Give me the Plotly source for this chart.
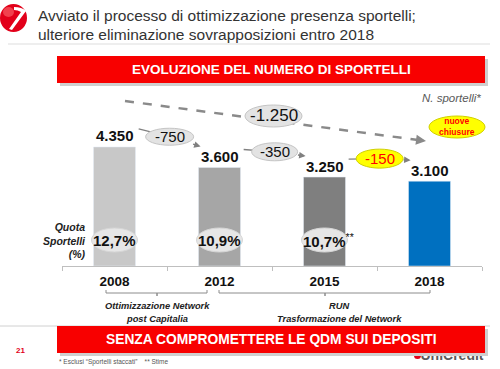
import plotly.graph_objects as go

# ---------------- data ----------------
years = ["2008", "2012", "2015", "2018"]
sportelli = [4350, 3600, 3250, 3100]
quota = ["12,7%", "10,9%", "10,7%", ""]
quota_note = ["", "", "**", ""]
bar_colors = ["#c8c8c8", "#a6a6a6", "#7f7f7f", "#0070c0"]
periods_line1 = ["Ottimizzazione Network", "RUN"]
periods_line2 = ["post Capitalia", "Trasformazione del Network"]

title_l1 = "Avviato il processo di ottimizzazione presenza sportelli;"
title_l2 = "ulteriore eliminazione sovrapposizioni entro 2018"
banner_top = "EVOLUZIONE DEL NUMERO DI SPORTELLI"
banner_bot = "SENZA COMPROMETTERE LE QDM SUI DEPOSITI"

# ---------------- helpers ----------------
W, H = 500, 369
SANS = "Liberation Sans, Arial"


def px(x):
    return x / W


def py(y):
    return 1 - y / H


def fmt(v):
    s = f"{abs(v):,}".replace(",", ".")
    return ("-" if v < 0 else "") + s


Y0_PX = 266          # pixel row of the value axis baseline
Y_MAX = 9722         # axis range top
U = Y_MAX / Y0_PX    # data units per pixel

fig = go.Figure()

fig.add_trace(go.Bar(
    x=years, y=sportelli, marker_color=bar_colors, width=0.4,
    hoverinfo="skip", showlegend=False,
))

# overlay axis (pixel space) for the partially hidden footer logo text
fig.add_trace(go.Scatter(
    x=[452], y=[356], xaxis="x2", yaxis="y2", mode="text",
    text=["<b>UniCredit</b>"], textfont=dict(family=SANS, size=14, color="#5a5a5a"),
    hoverinfo="skip", showlegend=False,
))

shapes = []
ann = []


def label(x, y, text, size, color="#111111", xref="paper", yref="paper", xanchor="center", **kw):
    d = dict(x=x, y=y, xref=xref, yref=yref, xanchor=xanchor, yanchor="middle",
             text=text, showarrow=False, font=dict(family=SANS, size=size, color=color))
    d.update(kw)
    ann.append(d)


# ---- header ----
shapes.append(dict(type="circle", xref="paper", yref="paper",
                   x0=px(0), x1=px(27), y0=py(4), y1=py(32),
                   fillcolor="#e2001a", line=dict(width=0)))
shapes.append(dict(type="circle", xref="paper", yref="paper",
                   x0=px(3), x1=px(14), y0=py(7), y1=py(17),
                   fillcolor="rgba(255,130,130,0.5)", line=dict(width=0)))
shapes.append(dict(type="path", xref="paper", yref="paper",
                   path=(f"M {px(14)},{py(7)} Q {px(22)},{py(7)} {px(26)},{py(11)} "
                         f"L {px(12)},{py(30)} L {px(9)},{py(29)} L {px(21)},{py(12)} "
                         f"Q {px(18)},{py(10)} {px(14)},{py(10)} Z"),
                   fillcolor="white", line=dict(width=0)))
label(px(36), py(15), title_l1, 15.5, "#333333", xanchor="left")
label(px(36), py(34), title_l2, 15.5, "#333333", xanchor="left")
shapes.append(dict(type="line", xref="paper", yref="paper", x0=px(8), x1=px(490), y0=py(44), y1=py(44),
                   line=dict(color="#dddddd", width=1)))


# ---- banners ----
def banner(y0, y1, text, size):
    shapes.append(dict(type="rect", xref="paper", yref="paper",
                       x0=px(60), x1=px(488), y0=py(y0 + 3), y1=py(y1 + 3),
                       fillcolor="#cfcfcf", line=dict(width=0)))
    shapes.append(dict(type="rect", xref="paper", yref="paper",
                       x0=px(57), x1=px(485), y0=py(y0), y1=py(y1),
                       fillcolor="#f80000", line=dict(width=0)))
    label(px(271), py((y0 + y1) / 2), f"<b>{text}</b>", size, "white")


shapes.append(dict(type="line", xref="paper", yref="paper", x0=px(0), x1=px(490), y0=py(326), y1=py(326),
                   line=dict(color="#d0d0d0", width=1)))
banner(56, 83, banner_top, 13.5)
banner(326, 353, banner_bot, 13.8)

label(px(483), py(98), "<i>N. sportelli*</i>", 11.5, "#595959", xanchor="right")

# ---- value labels ----
for i, v in enumerate(sportelli):
    label(i, v, f"<b>{fmt(v)}</b>", 15, xref="x", yref="y", yshift=11)

# ---- step changes between bars ----
changes = [sportelli[i + 1] - sportelli[i] for i in range(len(sportelli) - 1)]
ell_w = [48, 46, 47]
ell_h = [17, 18, 19]
ell_fill = ["#e3e3e3", "#e3e3e3", "#ffff00"]
ell_line = ["#c4c4c4", "#c4c4c4", "#d0d000"]
txt_col = ["#111111", "#111111", "#ff0000"]
for i, d in enumerate(changes):
    xs, ys = i + 0.23, sportelli[i] + 18 * U
    xe, ye = i + 1 - 0.18, sportelli[i + 1] + 21 * U
    xm, ym = (xs + xe) / 2, (ys + ye) / 2 + 1 * U
    shapes.append(dict(type="line", xref="x", yref="y", x0=xs, y0=ys, x1=xm, y1=ym,
                       line=dict(color="#808080", width=1.3)))
    shapes.append(dict(type="circle", xref="x", yref="y",
                       xsizemode="pixel", xanchor=xm, x0=-ell_w[i] / 2, x1=ell_w[i] / 2,
                       ysizemode="pixel", yanchor=ym, y0=-ell_h[i] / 2, y1=ell_h[i] / 2,
                       fillcolor=ell_fill[i], line=dict(color=ell_line[i], width=1)))
    ann.append(dict(x=xe, y=ye, ax=xm, ay=ym, xref="x", yref="y", axref="x", ayref="y",
                    text="", showarrow=True, arrowhead=2, arrowsize=1, arrowwidth=1.3,
                    arrowcolor="#808080", startstandoff=ell_w[i] / 2 - 1))
    label(xm, ym, fmt(d), 15, txt_col[i], xref="x", yref="y")

# ---- total change dashed arrow ----
total = sportelli[-1] - sportelli[0]
shapes.append(dict(type="line", xref="paper", yref="paper", x0=px(125), y0=py(101), x1=px(418), y1=py(140),
                   line=dict(color="#8a8a8a", width=2.5, dash="dash")))
ann.append(dict(x=px(426), y=py(141), xref="paper", yref="paper", ax=-10, ay=-1.3,
                text="", showarrow=True, arrowhead=2, arrowsize=1, arrowwidth=2, arrowcolor="#8a8a8a"))
shapes.append(dict(type="circle", xref="paper", yref="paper",
                   x0=px(245), x1=px(302), y0=py(105), y1=py(127),
                   fillcolor="#e3e3e3", line=dict(color="#c4c4c4", width=1)))
label(px(273.5), py(116), fmt(total), 17)
shapes.append(dict(type="circle", xref="paper", yref="paper",
                   x0=px(429), x1=px(485), y0=py(116), y1=py(138),
                   fillcolor="#ffff00", line=dict(color="#d0d000", width=1)))
label(px(457), py(126.5), "<b>nuove<br>chiusure</b>", 8.5, "#ff0000")

# ---- market share ellipses ----
label(px(88), py(240), "<b><i>Quota<br>Sportelli<br>(%)</i></b>", 10.5, "#222222",
      xanchor="right", align="right")
for i, q in enumerate(quota):
    if not q:
        continue
    shapes.append(dict(type="circle", xref="x", yref="paper",
                       xsizemode="pixel", xanchor=i, x0=-23, x1=23,
                       y0=py(252), y1=py(228),
                       fillcolor="#e6e6e6", line=dict(color="#d6d6d6", width=1)))
    txt = f"<b>{q}</b>" + (f"<sup>{quota_note[i]}</sup>" if quota_note[i] else "")
    label(i, py(240), txt, 15, xref="x", xshift=4 if quota_note[i] else 0)

# ---- period brackets ----
brackets = [(106, 157, 207), (219, 325, 430)]
text_x = [157, 339]
for (a, m, b), t1, t2, tx in zip(brackets, periods_line1, periods_line2, text_x):
    shapes.append(dict(type="path", xref="paper", yref="paper",
                       path=(f"M {px(a)},{py(290)} L {px(a)},{py(293)} L {px(m)},{py(293)} "
                             f"L {px(m)},{py(296)} L {px(m)},{py(293)} L {px(b)},{py(293)} L {px(b)},{py(290)}"),
                       line=dict(color="#8c8c8c", width=1)))
    label(px(tx), py(306), f"<b><i>{t1}</i></b>", 9.3, "#222222")
    label(px(tx), py(319), f"<b><i>{t2}</i></b>", 9.3, "#222222")

# ---- footer ----
label(px(20), py(350), "<b>21</b>", 8, "#e2001a")
label(px(57), py(362), "* Esclusi \u201cSportelli staccati\u201d    ** Stime", 6.5, "#555555", xanchor="left")
shapes.append(dict(type="circle", xref="paper", yref="paper", x0=px(414), x1=px(421), y0=py(352), y1=py(359),
                   fillcolor="#e2001a", line=dict(width=0), layer="below"))

fig.update_layout(
    width=W, height=H,
    margin=dict(l=0, r=0, t=0, b=0, pad=0, autoexpand=False),
    paper_bgcolor="white", plot_bgcolor="rgba(0,0,0,0)",
    bargap=0.6,
    showlegend=False,
    xaxis=dict(domain=[px(62), px(482)], type="category", range=[-0.5, 3.5],
               showline=True, linecolor="#bfbfbf", linewidth=1,
               ticks="outside", tickson="boundaries", ticklen=4, tickcolor="#bfbfbf",
               ticklabelstandoff=3,
               tickfont=dict(family=SANS, size=13.5, color="#111111", weight="bold"),
               showgrid=False, zeroline=False, fixedrange=True, automargin=False),
    yaxis=dict(domain=[py(Y0_PX), 1], range=[0, Y_MAX], visible=False, showgrid=False,
               zeroline=False, fixedrange=True, automargin=False),
    xaxis2=dict(domain=[0, 1], range=[0, W], visible=False, anchor="y2", fixedrange=True),
    yaxis2=dict(domain=[0, 1], range=[H, 0], visible=False, anchor="x2", fixedrange=True),
    shapes=shapes,
    annotations=ann,
)

fig.write_html("out.html", config={"displayModeBar": False},
               post_script="document.body.style.margin='0';document.body.style.overflow='hidden';")
